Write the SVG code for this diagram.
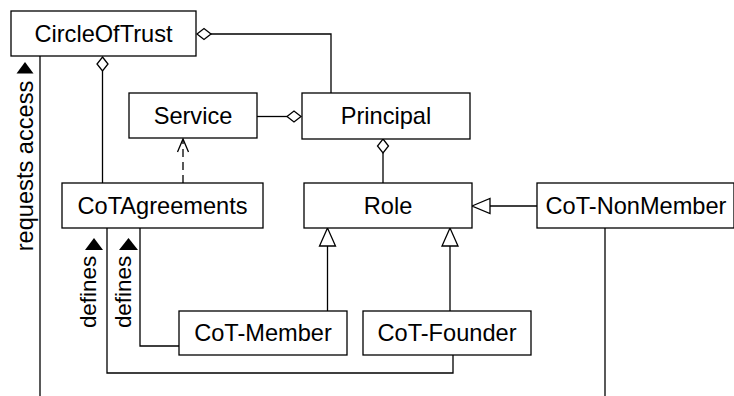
<svg xmlns="http://www.w3.org/2000/svg" width="734" height="396" viewBox="0 0 734 396">
  <style>
    .box { fill: #fff; stroke: #000; stroke-width: 1.3; }
    .lbl { font-family: "Liberation Sans", Arial, sans-serif; font-size: 23.6px; fill: #000; text-anchor: middle; }
    .sm { font-size: 22.4px; }
    .ln { fill: none; stroke: #000; stroke-width: 1.3; }
    .dash { stroke-dasharray: 8 5; }
    .agg { fill: #fff; stroke: #000; stroke-width: 1.3; }
    .gen { fill: #fff; stroke: #000; stroke-width: 1.3; }
    .dir { fill: #000; stroke: none; }
  </style>
  <rect width="734" height="396" fill="#fff"/>

  <!-- connectors -->
  <g id="connectors">
    <!-- CircleOfTrust aggregates Principal -->
    <path class="ln" d="M211 34 H331 V93"/>
    <polygon class="agg" points="197,34 204,28.5 211,34 204,39.5"/>
    <!-- CircleOfTrust aggregates CoTAgreements -->
    <path class="ln" d="M102.5 71 V183"/>
    <polygon class="agg" points="102.5,57 108,64 102.5,71 97,64"/>
    <!-- Principal aggregates Service -->
    <path class="ln" d="M257 116.5 H287"/>
    <polygon class="agg" points="287,116.5 294,111 301,116.5 294,122"/>
    <!-- CoTAgreements depends on Service -->
    <path class="ln dash" d="M183 183 V140"/>
    <path class="ln" d="M177.5 152 L183 139 L188.5 152"/>
    <!-- Principal aggregates Role -->
    <path class="ln" d="M383 153 V183"/>
    <polygon class="agg" points="383,139 388.5,146 383,153 377.5,146"/>
    <!-- CoT-NonMember specialises Role -->
    <path class="ln" d="M490 206 H537"/>
    <polygon class="gen" points="472,206 490,198.5 490,213.5"/>
    <!-- CoT-Member specialises Role -->
    <path class="ln" d="M327.5 246 V311"/>
    <polygon class="gen" points="327.5,228 319.5,246 335.5,246"/>
    <!-- CoT-Founder specialises Role -->
    <path class="ln" d="M450 246 V311"/>
    <polygon class="gen" points="450,228 442,246 458,246"/>
    <!-- CoT-NonMember lifeline -->
    <path class="ln" d="M605 228 V396"/>
    <!-- CircleOfTrust: requests access -->
    <path class="ln" d="M40 56 V396"/>
    <polygon class="dir" points="25,62 16.5,73.5 33.5,73.5"/>
    <text class="lbl" transform="translate(33,166) rotate(-90)">requests access</text>
    <!-- CoT-Member defines CoTAgreements -->
    <path class="ln" d="M179 346 H140 V228"/>
    <polygon class="dir" points="128.5,238 119,250 138,250"/>
    <text class="lbl sm" transform="translate(130.5,292) rotate(-90)">defines</text>
    <!-- CoT-Founder defines CoTAgreements -->
    <path class="ln" d="M453 355 V373 H107 V228"/>
    <polygon class="dir" points="94,238 85,250 103,250"/>
    <text class="lbl sm" transform="translate(95.5,292) rotate(-90)">defines</text>
  </g>

  <!-- nodes -->
  <g id="CircleOfTrust">
    <rect class="box" x="11" y="11" width="185" height="45"/>
    <text class="lbl" x="103.5" y="42">CircleOfTrust</text>
  </g>
  <g id="Service">
    <rect class="box" x="129" y="93" width="128" height="45"/>
    <text class="lbl" x="193" y="124">Service</text>
  </g>
  <g id="Principal">
    <rect class="box" x="302" y="93" width="168" height="46"/>
    <text class="lbl" x="386" y="124">Principal</text>
  </g>
  <g id="CoTAgreements">
    <rect class="box" x="62" y="183" width="201" height="45"/>
    <text class="lbl" x="162.5" y="214">CoTAgreements</text>
  </g>
  <g id="Role">
    <rect class="box" x="304" y="183" width="168" height="45"/>
    <text class="lbl" x="388" y="214">Role</text>
  </g>
  <g id="CoT-NonMember">
    <rect class="box" x="537" y="183" width="197" height="45"/>
    <text class="lbl" x="636" y="214">CoT-NonMember</text>
  </g>
  <g id="CoT-Member">
    <rect class="box" x="179" y="311" width="168" height="44"/>
    <text class="lbl" x="263" y="341">CoT-Member</text>
  </g>
  <g id="CoT-Founder">
    <rect class="box" x="363" y="311" width="168" height="44"/>
    <text class="lbl" x="447" y="341">CoT-Founder</text>
  </g>
</svg>
